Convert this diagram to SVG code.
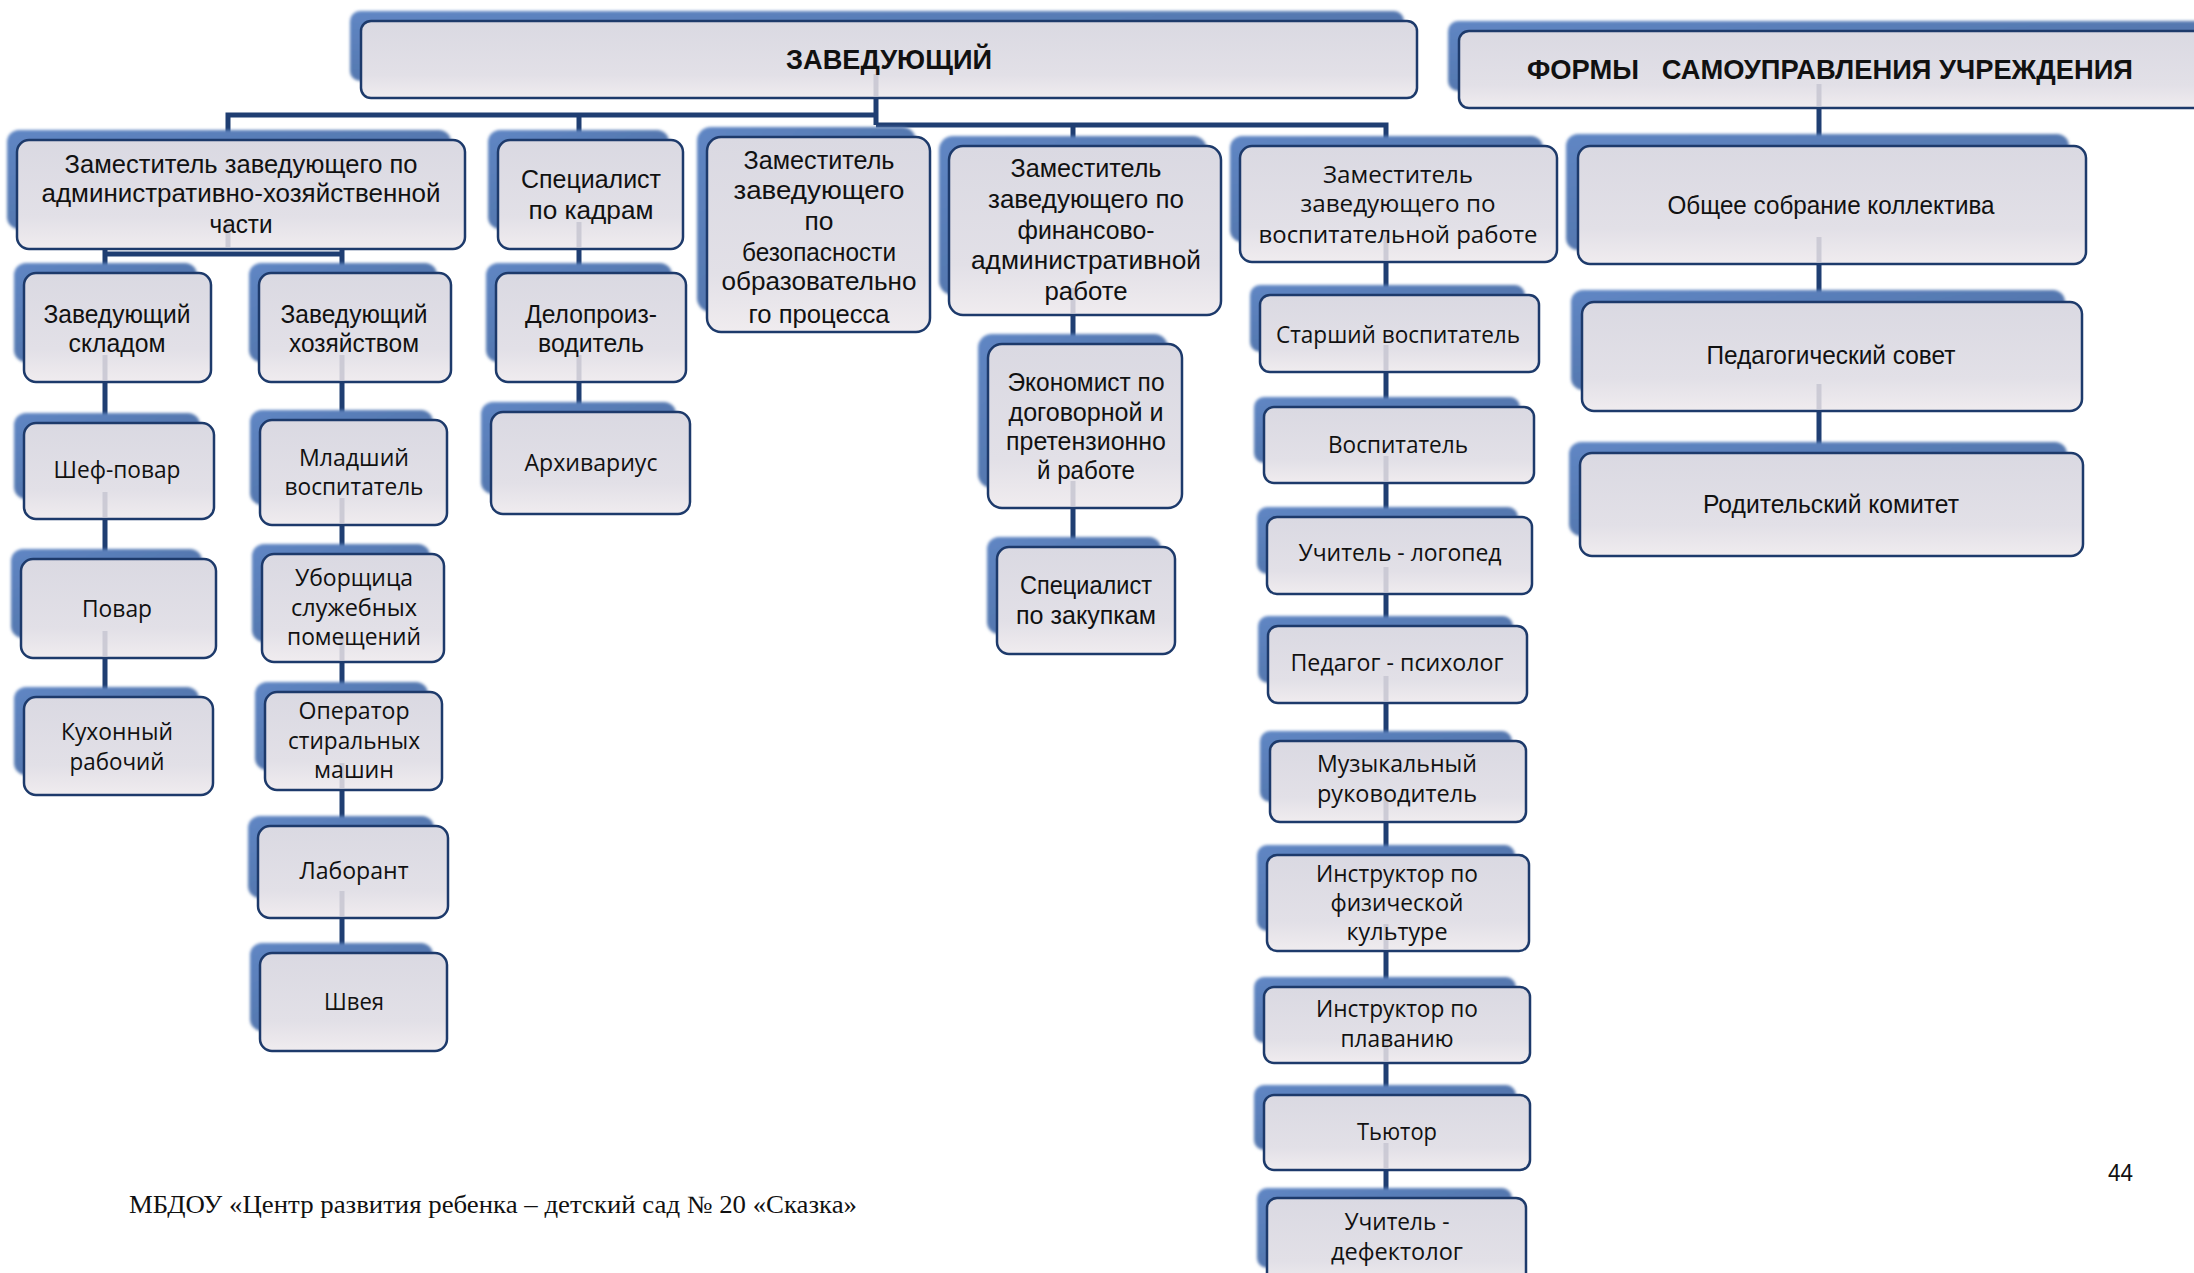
<svg xmlns="http://www.w3.org/2000/svg" width="2194" height="1273" viewBox="0 0 2194 1273">
<defs>
<linearGradient id="gb" x1="0" y1="0" x2="0" y2="1">
<stop offset="0" stop-color="#dad9e2"/>
<stop offset="0.7" stop-color="#e2e0e7"/>
<stop offset="1" stop-color="#f0ecef"/>
</linearGradient>
<linearGradient id="gs" x1="0" y1="0" x2="1" y2="1">
<stop offset="0" stop-color="#5f86c4"/>
<stop offset="1" stop-color="#4b6a9c"/>
</linearGradient>
<filter id="bl" x="-5%" y="-5%" width="110%" height="110%"><feGaussianBlur stdDeviation="1.5"/></filter>
<style>
.s{fill:url(#gs);filter:url(#bl);}
.b{fill:url(#gb);stroke:#1d3a6b;stroke-width:2.5;}
.c{font-family:"Liberation Sans",Arial,sans-serif;font-size:25px;fill:#111;text-anchor:middle;}
.o{font-family:"Open Sans","Liberation Sans",sans-serif;font-size:23px;fill:#111;text-anchor:middle;}
.h{font-family:"Liberation Sans",Arial,sans-serif;font-size:28px;font-weight:bold;fill:#111;text-anchor:middle;}
.ln{stroke:#1f3e72;stroke-width:5;fill:none;}
.gl{stroke:#c7c6d1;stroke-width:5;fill:none;opacity:0.85;}
</style>
</defs>
<rect width="2194" height="1273" fill="#ffffff"/>

<g id="connectors" class="ln">
<path d="M876 98V125M228 140V115H876M876 125H1386V146M1073 125V146M579 115V140"/>
<path d="M105 249V273M342 249V273M105 254H342"/>
<path d="M105 382V423M105 519V559M105 658V697"/>
<path d="M342 382V420M342 525V554M342 662V692M342 790V826M342 918V953"/>
<path d="M579 249V273M579 382V412"/>
<path d="M1073 315V344M1073 508V547"/>
<path d="M1386 262V295M1386 372V407M1386 483V517M1386 594V626M1386 703V741M1386 822V855M1386 951V987M1386 1063V1095M1386 1170V1198"/>
<path d="M1819 108V147M1819 262V302M1819 411V453"/>
</g>

<g id="n-head">
<rect class="s" x="350" y="11" width="1054" height="70" rx="10"/>
<rect class="b" x="361" y="21" width="1056" height="77" rx="10"/>
<path class="gl" d="M876 74V96"/>
<text class="h" x="889" y="69" textLength="206" lengthAdjust="spacingAndGlyphs">ЗАВЕДУЮЩИЙ</text>
</g>
<g id="n-forms">
<rect class="s" x="1448" y="21" width="760" height="70" rx="10"/>
<rect class="b" x="1459" y="31" width="760" height="77" rx="10"/>
<path class="gl" d="M1819 84V106"/>
<text class="h" x="1830" y="79" textLength="606" lengthAdjust="spacingAndGlyphs" xml:space="preserve">ФОРМЫ   САМОУПРАВЛЕНИЯ УЧРЕЖДЕНИЯ</text>
</g>

<g id="n-admin">
<rect class="s" x="7" y="130" width="444" height="99" rx="12"/>
<rect class="b" x="17" y="140" width="448" height="109" rx="12"/>
<path class="gl" d="M228 222V247"/>
<text class="c" x="241" y="173" textLength="353" lengthAdjust="spacingAndGlyphs">Заместитель заведующего по</text>
<text class="c" x="241" y="202" textLength="399" lengthAdjust="spacingAndGlyphs">административно-хозяйственной</text>
<text class="c" x="241" y="233" textLength="63" lengthAdjust="spacingAndGlyphs">части</text>
</g>
<g id="n-sklad">
<rect class="s" x="14" y="263" width="183" height="99" rx="12"/>
<rect class="b" x="24" y="273" width="187" height="109" rx="12"/>
<path class="gl" d="M105 355V380"/>
<text class="c" x="117" y="323" textLength="147" lengthAdjust="spacingAndGlyphs">Заведующий</text>
<text class="c" x="117" y="352" textLength="97" lengthAdjust="spacingAndGlyphs">складом</text>
</g>
<g id="n-chef">
<rect class="s" x="14" y="413" width="186" height="86" rx="12"/>
<rect class="b" x="24" y="423" width="190" height="96" rx="12"/>
<path class="gl" d="M105 492V517"/>
<text class="o" x="117" y="478" textLength="127" lengthAdjust="spacingAndGlyphs">Шеф-повар</text>
</g>
<g id="n-povar">
<rect class="s" x="11" y="549" width="191" height="89" rx="12"/>
<rect class="b" x="21" y="559" width="195" height="99" rx="12"/>
<path class="gl" d="M105 631V656"/>
<text class="o" x="117" y="617" textLength="70" lengthAdjust="spacingAndGlyphs">Повар</text>
</g>
<g id="n-kuh">
<rect class="s" x="14" y="687" width="185" height="88" rx="12"/>
<rect class="b" x="24" y="697" width="189" height="98" rx="12"/>
<text class="o" x="117" y="740" textLength="112" lengthAdjust="spacingAndGlyphs">Кухонный</text>
<text class="o" x="117" y="770" textLength="95" lengthAdjust="spacingAndGlyphs">рабочий</text>
</g>

<g id="n-hoz">
<rect class="s" x="249" y="263" width="188" height="99" rx="12"/>
<rect class="b" x="259" y="273" width="192" height="109" rx="12"/>
<path class="gl" d="M342 355V380"/>
<text class="c" x="354" y="323" textLength="147" lengthAdjust="spacingAndGlyphs">Заведующий</text>
<text class="c" x="354" y="352" textLength="130" lengthAdjust="spacingAndGlyphs">хозяйством</text>
</g>
<g id="n-mlad">
<rect class="s" x="250" y="410" width="183" height="95" rx="12"/>
<rect class="b" x="260" y="420" width="187" height="105" rx="12"/>
<path class="gl" d="M342 498V523"/>
<text class="o" x="354" y="466" textLength="110" lengthAdjust="spacingAndGlyphs">Младший</text>
<text class="o" x="354" y="495" textLength="139" lengthAdjust="spacingAndGlyphs">воспитатель</text>
</g>
<g id="n-ubor">
<rect class="s" x="252" y="544" width="178" height="98" rx="12"/>
<rect class="b" x="262" y="554" width="182" height="108" rx="12"/>
<path class="gl" d="M342 635V660"/>
<text class="o" x="354" y="586" textLength="118" lengthAdjust="spacingAndGlyphs">Уборщица</text>
<text class="o" x="354" y="616" textLength="126" lengthAdjust="spacingAndGlyphs">служебных</text>
<text class="o" x="354" y="645" textLength="134" lengthAdjust="spacingAndGlyphs">помещений</text>
</g>
<g id="n-oper">
<rect class="s" x="255" y="682" width="173" height="88" rx="12"/>
<rect class="b" x="265" y="692" width="177" height="98" rx="12"/>
<path class="gl" d="M342 763V788"/>
<text class="o" x="354" y="719" textLength="111" lengthAdjust="spacingAndGlyphs">Оператор</text>
<text class="o" x="354" y="749" textLength="132" lengthAdjust="spacingAndGlyphs">стиральных</text>
<text class="o" x="354" y="778" textLength="80" lengthAdjust="spacingAndGlyphs">машин</text>
</g>
<g id="n-lab">
<rect class="s" x="248" y="816" width="186" height="82" rx="12"/>
<rect class="b" x="258" y="826" width="190" height="92" rx="12"/>
<path class="gl" d="M342 891V916"/>
<text class="o" x="354" y="879" textLength="109" lengthAdjust="spacingAndGlyphs">Лаборант</text>
</g>
<g id="n-shveya">
<rect class="s" x="250" y="943" width="183" height="88" rx="12"/>
<rect class="b" x="260" y="953" width="187" height="98" rx="12"/>
<text class="o" x="354" y="1010" textLength="60" lengthAdjust="spacingAndGlyphs">Швея</text>
</g>

<g id="n-kadry">
<rect class="s" x="488" y="130" width="181" height="99" rx="12"/>
<rect class="b" x="498" y="140" width="185" height="109" rx="12"/>
<path class="gl" d="M579 222V247"/>
<text class="c" x="591" y="188" textLength="140" lengthAdjust="spacingAndGlyphs">Специалист</text>
<text class="c" x="591" y="219" textLength="125" lengthAdjust="spacingAndGlyphs">по кадрам</text>
</g>
<g id="n-delo">
<rect class="s" x="486" y="263" width="186" height="99" rx="12"/>
<rect class="b" x="496" y="273" width="190" height="109" rx="12"/>
<path class="gl" d="M579 355V380"/>
<text class="c" x="591" y="323" textLength="132" lengthAdjust="spacingAndGlyphs">Делопроиз-</text>
<text class="c" x="591" y="352" textLength="106" lengthAdjust="spacingAndGlyphs">водитель</text>
</g>
<g id="n-arch">
<rect class="s" x="481" y="402" width="195" height="92" rx="12"/>
<rect class="b" x="491" y="412" width="199" height="102" rx="12"/>
<text class="o" x="591" y="471" textLength="133" lengthAdjust="spacingAndGlyphs">Архивариус</text>
</g>

<g id="n-bez">
<rect class="s" x="697" y="127" width="219" height="185" rx="14"/>
<rect class="b" x="707" y="137" width="223" height="195" rx="14"/>
<text class="c" x="819" y="169" textLength="151" lengthAdjust="spacingAndGlyphs">Заместитель</text>
<text class="c" x="819" y="199" textLength="171" lengthAdjust="spacingAndGlyphs">заведующего</text>
<text class="c" x="819" y="230" textLength="29" lengthAdjust="spacingAndGlyphs">по</text>
<text class="c" x="819" y="261" textLength="154" lengthAdjust="spacingAndGlyphs">безопасности</text>
<text class="c" x="819" y="290" textLength="195" lengthAdjust="spacingAndGlyphs">образовательно</text>
<text class="c" x="819" y="323" textLength="141" lengthAdjust="spacingAndGlyphs">го процесса</text>
</g>

<g id="n-fin">
<rect class="s" x="939" y="136" width="268" height="159" rx="14"/>
<rect class="b" x="949" y="146" width="272" height="169" rx="14"/>
<path class="gl" d="M1073 288V313"/>
<text class="c" x="1086" y="177" textLength="151" lengthAdjust="spacingAndGlyphs">Заместитель</text>
<text class="c" x="1086" y="208" textLength="196" lengthAdjust="spacingAndGlyphs">заведующего по</text>
<text class="c" x="1086" y="239" textLength="137" lengthAdjust="spacingAndGlyphs">финансово-</text>
<text class="c" x="1086" y="269" textLength="230" lengthAdjust="spacingAndGlyphs">административной</text>
<text class="c" x="1086" y="300" textLength="83" lengthAdjust="spacingAndGlyphs">работе</text>
</g>
<g id="n-econ">
<rect class="s" x="978" y="334" width="190" height="154" rx="14"/>
<rect class="b" x="988" y="344" width="194" height="164" rx="14"/>
<path class="gl" d="M1073 481V506"/>
<text class="c" x="1086" y="391" textLength="157" lengthAdjust="spacingAndGlyphs">Экономист по</text>
<text class="c" x="1086" y="421" textLength="155" lengthAdjust="spacingAndGlyphs">договорной и</text>
<text class="c" x="1086" y="450" textLength="160" lengthAdjust="spacingAndGlyphs">претензионно</text>
<text class="c" x="1086" y="479" textLength="98" lengthAdjust="spacingAndGlyphs">й работе</text>
</g>
<g id="n-zak">
<rect class="s" x="987" y="537" width="174" height="97" rx="12"/>
<rect class="b" x="997" y="547" width="178" height="107" rx="12"/>
<text class="c" x="1086" y="594" textLength="132" lengthAdjust="spacingAndGlyphs">Специалист</text>
<text class="c" x="1086" y="624" textLength="140" lengthAdjust="spacingAndGlyphs">по закупкам</text>
</g>

<g id="n-zamvosp">
<rect class="s" x="1230" y="136" width="313" height="106" rx="12"/>
<rect class="b" x="1240" y="146" width="317" height="116" rx="12"/>
<path class="gl" d="M1386 235V260"/>
<text class="o" x="1398" y="183" textLength="150" lengthAdjust="spacingAndGlyphs">Заместитель</text>
<text class="o" x="1398" y="212" textLength="195" lengthAdjust="spacingAndGlyphs">заведующего по</text>
<text class="o" x="1398" y="243" textLength="279" lengthAdjust="spacingAndGlyphs">воспитательной работе</text>
</g>
<g id="n-star">
<rect class="s" x="1250" y="285" width="275" height="67" rx="10"/>
<rect class="b" x="1260" y="295" width="279" height="77" rx="10"/>
<path class="gl" d="M1386 345V370"/>
<text class="o" x="1398" y="343" textLength="244" lengthAdjust="spacingAndGlyphs">Старший воспитатель</text>
</g>
<g id="n-vosp">
<rect class="s" x="1254" y="397" width="266" height="66" rx="10"/>
<rect class="b" x="1264" y="407" width="270" height="76" rx="10"/>
<path class="gl" d="M1386 456V481"/>
<text class="o" x="1398" y="453" textLength="140" lengthAdjust="spacingAndGlyphs">Воспитатель</text>
</g>
<g id="n-logo">
<rect class="s" x="1257" y="507" width="261" height="67" rx="10"/>
<rect class="b" x="1267" y="517" width="265" height="77" rx="10"/>
<path class="gl" d="M1386 567V592"/>
<text class="o" x="1400" y="561" textLength="203" lengthAdjust="spacingAndGlyphs">Учитель - логопед</text>
</g>
<g id="n-psy">
<rect class="s" x="1258" y="616" width="255" height="67" rx="10"/>
<rect class="b" x="1268" y="626" width="259" height="77" rx="10"/>
<path class="gl" d="M1386 676V701"/>
<text class="o" x="1397" y="671" textLength="213" lengthAdjust="spacingAndGlyphs">Педагог - психолог</text>
</g>
<g id="n-muz">
<rect class="s" x="1260" y="731" width="252" height="71" rx="10"/>
<rect class="b" x="1270" y="741" width="256" height="81" rx="10"/>
<path class="gl" d="M1386 795V820"/>
<text class="o" x="1397" y="772" textLength="160" lengthAdjust="spacingAndGlyphs">Музыкальный</text>
<text class="o" x="1397" y="802" textLength="160" lengthAdjust="spacingAndGlyphs">руководитель</text>
</g>
<g id="n-fiz">
<rect class="s" x="1257" y="845" width="258" height="86" rx="10"/>
<rect class="b" x="1267" y="855" width="262" height="96" rx="10"/>
<path class="gl" d="M1386 924V949"/>
<text class="o" x="1397" y="882" textLength="162" lengthAdjust="spacingAndGlyphs">Инструктор по</text>
<text class="o" x="1397" y="911" textLength="133" lengthAdjust="spacingAndGlyphs">физической</text>
<text class="o" x="1397" y="940" textLength="101" lengthAdjust="spacingAndGlyphs">культуре</text>
</g>
<g id="n-plav">
<rect class="s" x="1254" y="977" width="262" height="66" rx="10"/>
<rect class="b" x="1264" y="987" width="266" height="76" rx="10"/>
<path class="gl" d="M1386 1036V1061"/>
<text class="o" x="1397" y="1017" textLength="162" lengthAdjust="spacingAndGlyphs">Инструктор по</text>
<text class="o" x="1397" y="1047" textLength="113" lengthAdjust="spacingAndGlyphs">плаванию</text>
</g>
<g id="n-tutor">
<rect class="s" x="1254" y="1085" width="262" height="65" rx="10"/>
<rect class="b" x="1264" y="1095" width="266" height="75" rx="10"/>
<path class="gl" d="M1386 1143V1168"/>
<text class="o" x="1397" y="1140" textLength="80" lengthAdjust="spacingAndGlyphs">Тьютор</text>
</g>
<g id="n-defekt">
<rect class="s" x="1257" y="1188" width="255" height="80" rx="10"/>
<rect class="b" x="1267" y="1198" width="259" height="90" rx="10"/>
<text class="o" x="1397" y="1230" textLength="105" lengthAdjust="spacingAndGlyphs">Учитель -</text>
<text class="o" x="1397" y="1260" textLength="132" lengthAdjust="spacingAndGlyphs">дефектолог</text>
</g>

<g id="n-obshee">
<rect class="s" x="1566" y="134" width="503" height="116" rx="12"/>
<rect class="b" x="1578" y="146" width="508" height="118" rx="12"/>
<path class="gl" d="M1819 237V262"/>
<text class="c" x="1831" y="214" textLength="327" lengthAdjust="spacingAndGlyphs">Общее собрание коллектива</text>
</g>
<g id="n-ped">
<rect class="s" x="1571" y="290" width="494" height="100" rx="12"/>
<rect class="b" x="1582" y="302" width="500" height="109" rx="12"/>
<path class="gl" d="M1819 384V409"/>
<text class="c" x="1831" y="364" textLength="249" lengthAdjust="spacingAndGlyphs">Педагогический совет</text>
</g>
<g id="n-rod">
<rect class="s" x="1569" y="442" width="498" height="94" rx="12"/>
<rect class="b" x="1580" y="453" width="503" height="103" rx="12"/>
<text class="c" x="1831" y="513" textLength="256" lengthAdjust="spacingAndGlyphs">Родительский комитет</text>
</g>

<text x="129" y="1213" font-family="'Liberation Serif','Times New Roman',serif" font-size="25" fill="#111" textLength="728" lengthAdjust="spacingAndGlyphs">МБДОУ «Центр развития ребенка – детский сад № 20 «Сказка»</text>
<text x="2108" y="1181" font-family="'Liberation Sans',Arial,sans-serif" font-size="24" fill="#111" textLength="25" lengthAdjust="spacingAndGlyphs">44</text>
</svg>
